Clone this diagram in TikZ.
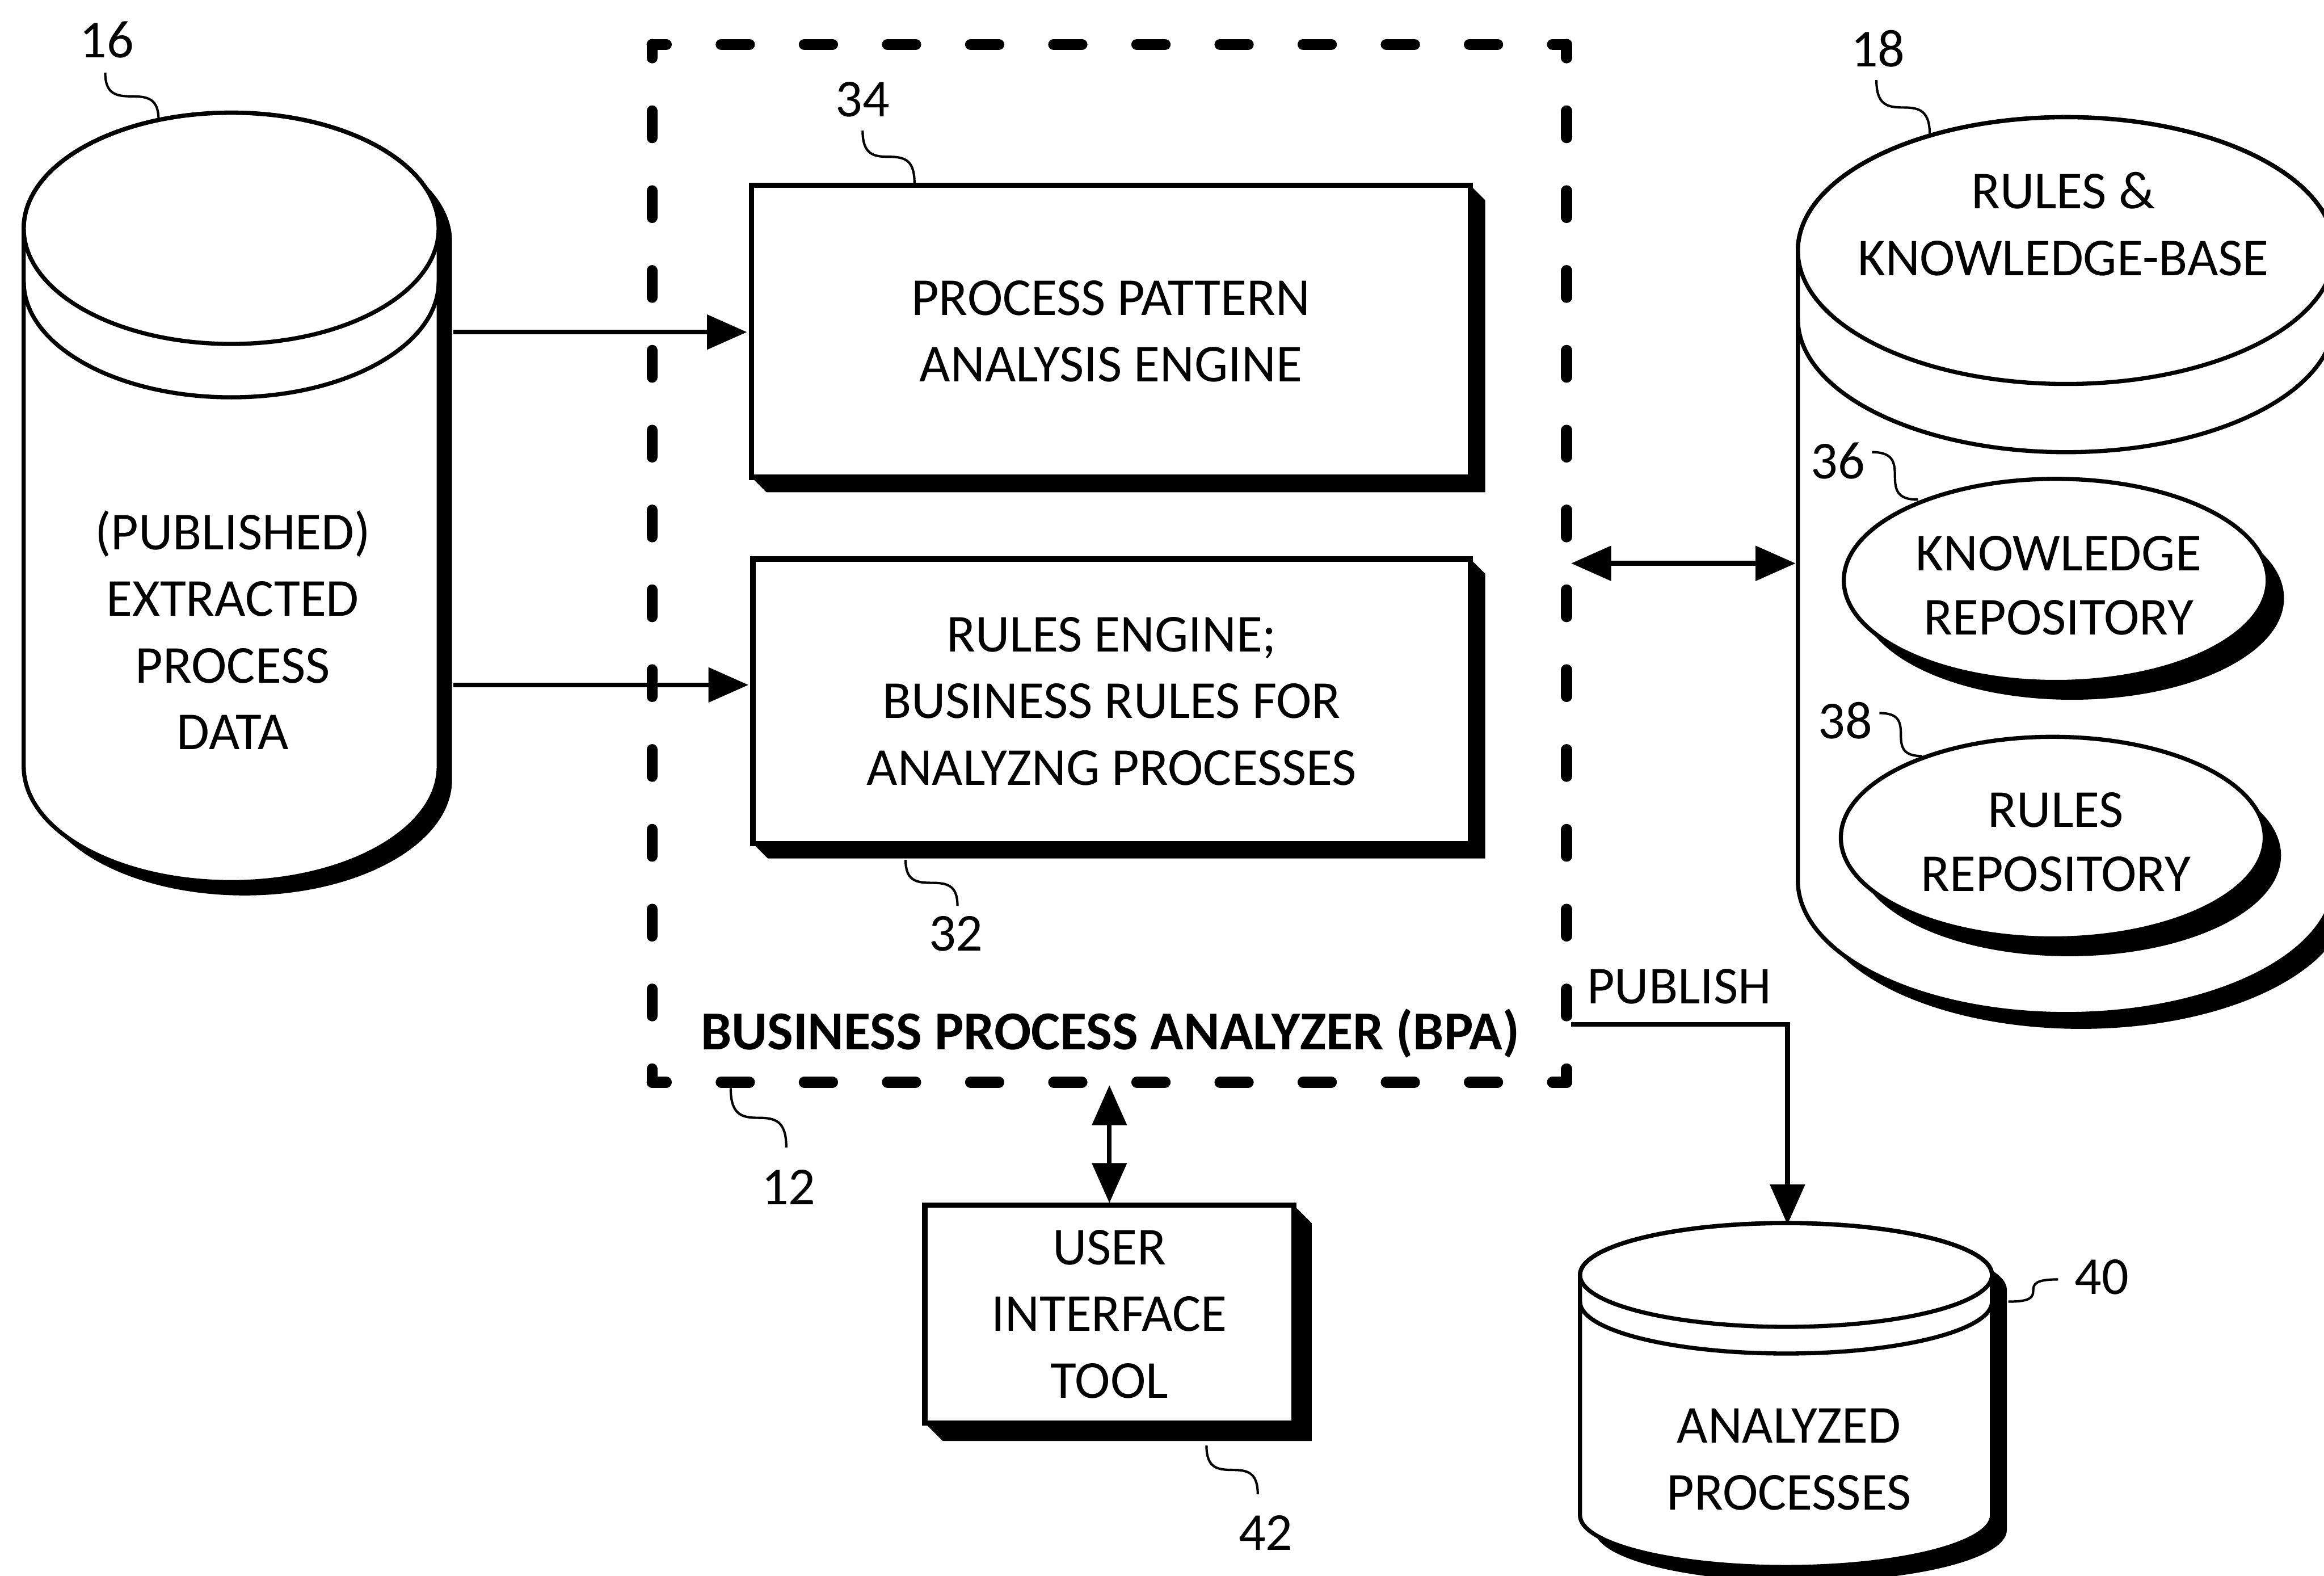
\documentclass[tikz,border=0pt]{standalone}
\usepackage{fontspec}
\setmainfont{Carlito}
\usetikzlibrary{arrows.meta,calc}
% cylinder: cx, top cy, bottom cy, rx, ry, ring offset, shadow dx, shadow dy
\newcommand\drawcyl[8]{%
  \fill[black] ({#1-#4+#7},{#2+#8}) -- ({#1-#4+#7},{#3+#8}) arc[start angle=180,end angle=0,x radius=#4,y radius=#5] -- ({#1+#4+#7},{#2+#8}) arc[start angle=0,end angle=-180,x radius=#4,y radius=#5] -- cycle;
  \filldraw[cyl,fill=white] ({#1-#4},#2) -- ({#1-#4},#3) arc[start angle=180,end angle=0,x radius=#4,y radius=#5] -- ({#1+#4},#2) arc[start angle=0,end angle=-180,x radius=#4,y radius=#5] -- cycle;
  \draw[cyl] (#1,#2) ellipse[x radius=#4,y radius=#5];
  \draw[cyl] ({#1-#4},{#2+#6}) arc[start angle=180,end angle=0,x radius=#4,y radius=#5];
}
\newcommand\shellipse[4]{%
  \fill[black] ({#1+11},{#2+12}) ellipse[x radius=#3,y radius=#4];
  \filldraw[cyl,fill=white] (#1,#2) ellipse[x radius=#3,y radius=#4];
}
\newcommand\boxshadow[2]{%
  \fill[black] (#1.north east) -- ++(#2,#2) -- ($(#1.south east)+(#2,#2)$) -- ($(#1.south west)+(#2,#2)$) -- (#1.south west) -- (#1.south east) -- cycle;
}
\newcommand\leadV[2]{%
  \coordinate (lm) at ($(#1)!0.5!(#2)$);
  \draw[lead] (#1) .. controls ($(#1)!0.45!(#1 |- #2)$) and ($(#1 |- lm)!0.4!(lm)$) .. (lm) .. controls ($(lm)!0.6!(#2 |- lm)$) and ($(#2)!0.45!(#2 |- #1)$) .. (#2);
}
\newcommand\leadH[2]{%
  \coordinate (lm) at ($(#1)!0.5!(#2)$);
  \draw[lead] (#1) .. controls ($(#1)!0.45!(#1 -| #2)$) and ($(#1 -| lm)!0.4!(lm)$) .. (lm) .. controls ($(lm)!0.6!(#2 -| lm)$) and ($(#2)!0.45!(#2 -| #1)$) .. (#2);
}
\begin{document}
\begin{tikzpicture}[x=1pt,y=-1pt,
  cyl/.style={line width=2.8pt},
  bx/.style={draw,line width=3.6pt,fill=white,align=center,inner sep=0pt,outer sep=0pt,font=\fontsize{36}{45}\selectfont},
  arr/.style={line width=3.2pt,-{Triangle[length=27pt,width=23pt]}},
  darr/.style={line width=3.2pt,{Triangle[length=27pt,width=23pt]}-{Triangle[length=27pt,width=23pt]}},
  lead/.style={line width=1.6pt},
  lbl/.style={inner sep=0pt,font=\fontsize{36}{44}\selectfont},
  txt/.style={inner sep=0pt,align=center,font=\fontsize{36}{45}\selectfont},
  dsh/.style={line width=7.5pt,line cap=round}]
\useasboundingbox (0,0) rectangle (1568,1063);
\fill[white] (0,0) rectangle (1568,1063);
\clip (0,0) rectangle (1568,1063);

% ---- cylinders
\drawcyl{156}{154}{517}{140}{78}{36}{9}{9}
\node[txt] (t16) at (157,425) {(PUBLISHED)\\EXTRACTED\\PROCESS\\DATA};
\drawcyl{1394}{169}{594}{181}{90}{46}{10}{10}
\node[txt] (t18) at (1392,151) {RULES \&\\KNOWLEDGE-BASE};
\shellipse{1387}{391.5}{143}{68.5}
\node[txt,font=\fontsize{36}{43}\selectfont] (tkr) at (1389,395) {KNOWLEDGE\\REPOSITORY};
\shellipse{1385}{565}{143}{68}
\node[txt,font=\fontsize{36}{43}\selectfont] (trr) at (1387,568) {RULES\\REPOSITORY};
\drawcyl{1205}{860}{1022}{139}{35}{18}{10}{10}
\node[txt] (t40) at (1207,984.5) {ANALYZED\\PROCESSES};

% ---- BPA dashed frame
\node[minimum width=617pt,minimum height=700pt,inner sep=0pt,outer sep=0pt] (bpa) at (748.5,380) {};
\draw[dsh,dash pattern=on 19pt off 37.09pt,dash phase=9.5pt] (bpa.north west) -- (bpa.north east);
\draw[dsh,dash pattern=on 19pt off 37.09pt,dash phase=9.5pt] (bpa.south west) -- (bpa.south east);
\draw[dsh,dash pattern=on 18pt off 35.85pt,dash phase=9pt] (bpa.north west) -- (bpa.south west);
\draw[dsh,dash pattern=on 18pt off 35.85pt,dash phase=9pt] (bpa.north east) -- (bpa.south east);

% ---- boxes
\node[bx,minimum width=485pt,minimum height=197pt] (b34) at (749.5,223.5) {PROCESS PATTERN\\ANALYSIS ENGINE};
\boxshadow{b34}{10}
\node[bx,minimum width=484pt,minimum height=192pt] (b32) at (750,473) {RULES ENGINE;\\BUSINESS RULES FOR\\ANALYZNG PROCESSES};
\boxshadow{b32}{10}
\node[bx,minimum width=249pt,minimum height=147pt] (ui) at (748.5,886.5) {USER\\INTERFACE\\TOOL};
\boxshadow{ui}{12}

% ---- labels
\node[lbl] (l16) at (72,27) {16};
\node[lbl] (l18) at (1267,33) {18};
\node[lbl] (l34) at (582,67) {34};
\node[lbl] (l36) at (1240,311) {36};
\node[lbl] (l38) at (1245,486) {38};
\node[lbl] (l32) at (645,630) {32};
\node[lbl] (l12) at (532,801) {12};
\node[lbl] (l42) at (854,1034) {42};
\node[lbl] (l40) at (1418,861.5) {40};
\node[inner sep=0pt,font=\bfseries\fontsize{37}{44}\selectfont] (bpalbl) at (749,697) {BUSINESS PROCESS ANALYZER (BPA)};
\node[lbl] (pub) at (1133,665.5) {PUBLISH};

% ---- connectors
\coordinate (c16a) at (306,224);
\coordinate (c16b) at (306,462);
\draw[arr,shorten >=3pt] (c16a) -- (c16a -| b34.west);
\draw[arr,shorten >=3pt] (c16b) -- (c16b -| b32.west);
\coordinate (c18l) at (1211.5,380);
\draw[darr,shorten <=3pt] (c18l -| bpa.east) -- (c18l);
\draw[darr,shorten <=2pt,shorten >=1.5pt] (ui.north |- bpa.south) -- (ui.north);
\coordinate (pubs) at (1060,691);
\coordinate (c40t) at (1206,826);
\draw[arr] (pubs) -| (c40t);

% ---- leaders
\coordinate (a16) at (71,49);   \coordinate (e16) at (107,81);
\coordinate (a18) at (1266,54); \coordinate (e18) at (1302,91);
\coordinate (a34) at (582,88);  \coordinate (e34) at (617,123.5);
\coordinate (a32) at (611,580); \coordinate (e32) at (646,611);
\coordinate (a12) at (493,734); \coordinate (e12) at (530.5,774);
\coordinate (a42) at (814,975); \coordinate (e42) at (848.6,1008);
\coordinate (a36) at (1263,305); \coordinate (e36) at (1294,337);
\coordinate (a38) at (1268,481); \coordinate (e38) at (1297,510);
\coordinate (a40) at (1388.6,863); \coordinate (e40) at (1355,878);
\leadV{a16}{e16}
\leadV{a18}{e18}
\leadV{a34}{e34}
\leadV{a32}{e32}
\leadV{a12}{e12}
\leadV{a42}{e42}
\leadH{a36}{e36}
\leadH{a38}{e38}
\leadH{a40}{e40}
\end{tikzpicture}
\end{document}
